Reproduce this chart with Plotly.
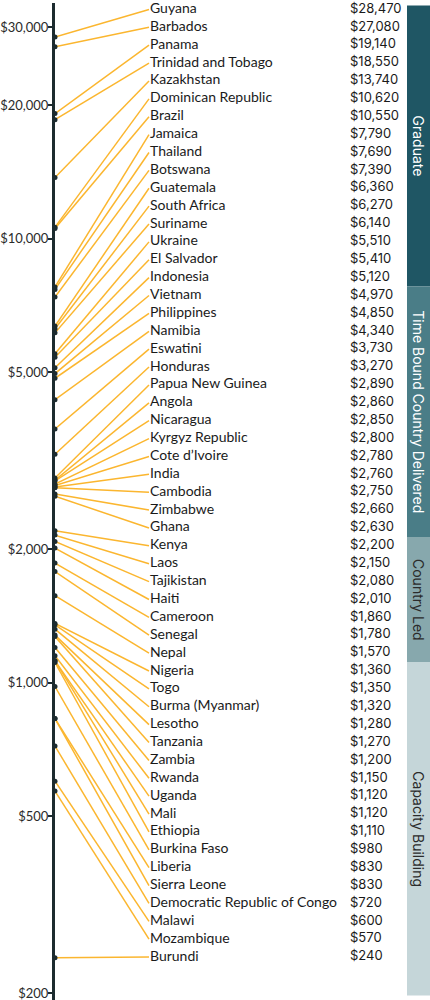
import numpy as np
import plotly.graph_objects as go

countries = [
    'Guyana', 'Barbados', 'Panama', 'Trinidad and Tobago', 'Kazakhstan',
    'Dominican Republic', 'Brazil', 'Jamaica', 'Thailand', 'Botswana',
    'Guatemala', 'South Africa', 'Suriname', 'Ukraine', 'El Salvador',
    'Indonesia', 'Vietnam', 'Philippines', 'Namibia', 'Eswatini', 'Honduras',
    'Papua New Guinea', 'Angola', 'Nicaragua', 'Kyrgyz Republic',
    'Cote d\u2019Ivoire', 'India', 'Cambodia', 'Zimbabwe', 'Ghana', 'Kenya',
    'Laos', 'Tajikistan', 'Haiti', 'Cameroon', 'Senegal', 'Nepal', 'Nigeria',
    'Togo', 'Burma (Myanmar)', 'Lesotho', 'Tanzania', 'Zambia', 'Rwanda',
    'Uganda', 'Mali', 'Ethiopia', 'Burkina Faso', 'Liberia', 'Sierra Leone',
    'Democratic Republic of Congo', 'Malawi', 'Mozambique', 'Burundi',
]
income = [
    28470, 27080, 19140, 18550, 13740, 10620, 10550, 7790, 7690, 7390,
    6360, 6270, 6140, 5510, 5410, 5120, 4970, 4850, 4340, 3730, 3270,
    2890, 2860, 2850, 2800, 2780, 2760, 2750, 2660, 2630, 2200, 2150,
    2080, 2010, 1860, 1780, 1570, 1360, 1350, 1320, 1280, 1270, 1200,
    1150, 1120, 1120, 1110, 980, 830, 830, 720, 600, 570, 240,
]
groups = ['Graduate', 'Time Bound Country Delivered', 'Country Led', 'Capacity Building']
group_counts = [16, 14, 7, 17]

tick_vals = [200, 500, 1000, 2000, 5000, 10000, 20000, 30000]
tick_text = ['$200', '$500', '$1,000', '$2,000', '$5,000', '$10,000', '$20,000', '$30,000']

band_colors = ['#1f5664', '#4a7d87', '#87a8ad', '#c5d6d9']
band_text_colors = ['white', 'white', '#2b2b2b', '#2b2b2b']

AXIS_X = 55
LABEL_X = 149
VALUE_X = 350
BAND_X0, BAND_X1 = 407, 430

# log axis range (log10) and row axis range share the same plot area
log_lo, log_hi = 2.2852, 4.5311
row_top, row_bot = -0.36, 55.4


def row_to_value(r):
    frac = (r - row_top) / (row_bot - row_top)
    return 10 ** (log_hi - frac * (log_hi - log_lo))


rows = np.arange(len(countries))

fig = go.Figure()

# connector lines from the axis to each label row
lx, ly = [], []
for r, v in zip(rows, income):
    lx += [AXIS_X, LABEL_X, None]
    ly += [v, row_to_value(r), None]
fig.add_trace(go.Scatter(x=lx, y=ly, mode='lines', line=dict(color='#fbb62f', width=1.5),
                         hoverinfo='skip', showlegend=False))

fig.add_trace(go.Scatter(x=[AXIS_X] * len(income), y=income, mode='markers',
                         marker=dict(color='#1c2b2f', size=5), showlegend=False,
                         text=countries, hovertemplate='%{text}: $%{y:,}<extra></extra>'))

fig.add_trace(go.Scatter(x=[LABEL_X + 1] * len(countries), y=rows, yaxis='y2', mode='text',
                         text=countries, textposition='middle right', cliponaxis=False,
                         textfont=dict(family='Lato', size=14, color='#1a1a1a'),
                         hoverinfo='skip', showlegend=False))

fig.add_trace(go.Scatter(x=[VALUE_X] * len(income), y=rows, yaxis='y2', mode='text',
                         text=['${:,}'.format(v) for v in income], textposition='middle right',
                         cliponaxis=False,
                         textfont=dict(family='Inter', size=13, color='#1a1a1a'),
                         hoverinfo='skip', showlegend=False))

# category bands
edges = [-0.22] + list(np.cumsum(group_counts) - 0.5)
edges[-1] = 55.15
for g, y0, y1, col, tcol in zip(groups, edges[:-1], edges[1:], band_colors, band_text_colors):
    fig.add_shape(type='rect', xref='x', yref='y2', x0=BAND_X0, x1=BAND_X1, y0=y0, y1=y1,
                  fillcolor=col, line_width=0, layer='below')
    fig.add_annotation(xref='x', yref='y2', x=(BAND_X0 + BAND_X1) / 2, y=(y0 + y1) / 2,
                       text=g, textangle=90, showarrow=False,
                       font=dict(family='Inter', size=14, color=tcol))

fig.update_layout(
    width=430, height=1000,
    margin=dict(l=AXIS_X, r=0, t=3, b=0),
    plot_bgcolor='white', paper_bgcolor='white',
    xaxis=dict(range=[AXIS_X, 430], visible=False, fixedrange=True),
    yaxis=dict(type='log', range=[log_lo, log_hi], tickvals=tick_vals, ticktext=tick_text,
               ticks='outside', ticklen=4, tickwidth=2, tickcolor='#1c2b2f',
               ticklabelstandoff=-3, ticklabeloverflow='allow',
               showline=True, linewidth=3, linecolor='#1c2b2f', showgrid=False,
               zeroline=False, automargin=False, fixedrange=True,
               tickfont=dict(family='Lato', size=13, color='#2b2b2b')),
    yaxis2=dict(range=[row_bot, row_top], overlaying='y', visible=False, fixedrange=True),
    showlegend=False,
)

# drop the default page margin so the figure sits at the window corner
fig.write_html("out.html", config={'displayModeBar': False},
               post_script="document.body.style.margin='0px';")
